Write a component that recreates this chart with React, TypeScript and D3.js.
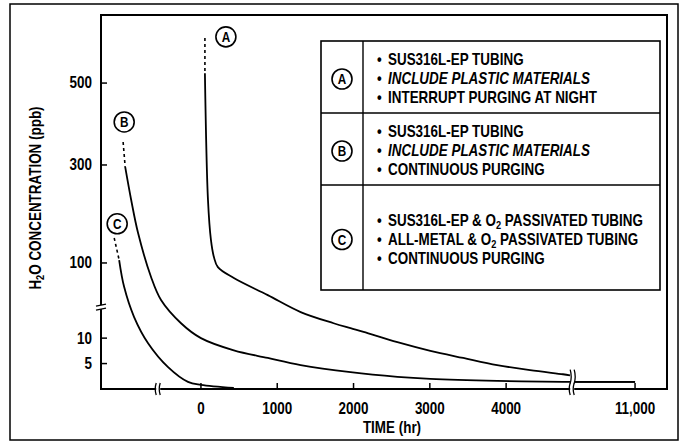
import React from 'react';
import * as d3 from 'd3';

// time in hours (negative = before the 0 mark, left of the axis break), H2O in ppb
const curveADash = [[52, 609], [52, 524]];
const curveA = [[52, 524], [92, 229], [131, 147], [170, 112], [222, 92], [431, 71], [876, 38], [1307, 14.2], [1739, 12.4], [1961, 11.6], [2131, 11.0], [2575, 9.2], [3007, 7.5], [3438, 6.1], [3882, 4.7], [4314, 3.7], [4745, 2.9], [4837, 2.7]];
const curveATail = [[10200, 1.4], [11000, 1.4]];

const curveBDash = [[-1020, 356], [-993, 296]];
const curveB = [[-993, 296], [-915, 229], [-824, 161], [-654, 73], [-523, 28.6], [-261, 12.4], [0, 10], [431, 7.6], [876, 6.1], [1307, 4.7], [1961, 3.3], [2575, 2.4], [3007, 2.0], [3882, 1.6], [4745, 1.4], [4837, 1.4]];
const curveBTail = [[10200, 1.4], [11000, 1.4]];

const curveCDash = [[-1137, 151], [-1072, 106]];
const curveC = [[-1072, 106], [-1007, 54], [-876, 13.4], [-693, 9.0], [-431, 4.3], [-170, 1.4], [0, 0.8], [431, 0.2]];

const curveLabels = [
  { id: 'A', t: 327, v: 612 },
  { id: 'B', t: -1006, v: 405 },
  { id: 'C', t: -1098, v: 180 },
];

const xTicks = [0, 1000, 2000, 3000, 4000, 11000];
const xTickLabels = ['0', '1000', '2000', '3000', '4000', '11,000'];
const yTicks = [5, 10, 100, 300, 500];
const yTickLabels = ['5', '10', '100', '300', '500'];

const legendA = ['SUS316L-EP TUBING', 'INCLUDE PLASTIC MATERIALS', 'INTERRUPT PURGING AT NIGHT'];
const legendB = ['SUS316L-EP TUBING', 'INCLUDE PLASTIC MATERIALS', 'CONTINUOUS PURGING'];
const legendC = ['SUS316L-EP & O2 PASSIVATED TUBING', 'ALL-METAL & O2 PASSIVATED TUBING', 'CONTINUOUS PURGING'];

const W = 681;
const H = 444;
const left = 101, top = 15, right = 667, bottom = 389;
const FONT = "'Liberation Sans', Arial, sans-serif";
const SQUEEZE = 0.84; // condensed typewriter-ish lettering of the original

// broken axes: piecewise linear scales
const x = d3.scaleLinear()
  .domain([-1310, 4840, 10200, 11420])
  .range([0, 0.829, 0.836, 1].map(f => left + f * (right - left)));
const y = d3.scaleLinear()
  .domain([0, 10, 15, 100, 300, 500, 665])
  .range([1, 0.864, 0.781, 0.663, 0.401, 0.182, 0].map(f => top + f * (bottom - top)));

const line = d3.line().x(d => x(d[0])).y(d => y(d[1])).curve(d3.curveCatmullRom.alpha(0.5));
const straight = d3.line().x(d => x(d[0])).y(d => y(d[1]));

// condensed bold text
function T({ x: tx, y: ty, anchor = 'start', size = 16, rotate = 0, italic = false, children }) {
  return (
    <g transform={`translate(${tx},${ty}) rotate(${rotate}) scale(${SQUEEZE},1)`}>
      <text textAnchor={anchor} dominantBaseline="central" fontSize={size} fontWeight="bold" fontStyle={italic ? 'italic' : 'normal'}>
        {children}
      </text>
    </g>
  );
}

function Circled({ cx, cy, label }) {
  return (
    <g>
      <circle cx={cx} cy={cy} r={10} fill="#fff" stroke="#000" strokeWidth={1.6} />
      <T x={cx} y={cy + 0.5} anchor="middle" size={14}>{label}</T>
    </g>
  );
}

function LegendLine({ text, x0, cy }) {
  const italic = text.startsWith('INCLUDE');
  const parts = text.split('O2');
  return (
    <g>
      <T x={x0} y={cy}>•</T>
      <T x={x0 + 11} y={cy} italic={italic}>
        {parts.length === 1 ? text : (
          <>
            {parts[0]}O<tspan dy={4} fontSize={11}>2</tspan><tspan dy={-4}>{parts[1]}</tspan>
          </>
        )}
      </T>
    </g>
  );
}

export default function App() {
  const rows = [
    { id: 'A', lines: legendA, y0: 41, y1: 113 },
    { id: 'B', lines: legendB, y0: 113, y1: 185 },
    { id: 'C', lines: legendC, y0: 185, y1: 290 },
  ];
  const lgX0 = 321, lgX1 = 660, lgCol = 363;
  const yBreak = y(15);
  const xBreak1 = x(-560);
  const xBreak2 = (x(4840) + x(10200)) / 2;

  return (
    <svg width={W} height={H} style={{ position: 'absolute', left: 0, top: 0, background: '#fff' }} fontFamily={FONT}>
      {/* outer frame */}
      <rect x={10} y={4} width={668} height={436} fill="none" stroke="#000" strokeWidth={1.5} />
      {/* plot frame */}
      <rect x={left} y={top} width={right - left} height={bottom - top} fill="none" stroke="#000" strokeWidth={2} />

      {/* y ticks */}
      {yTicks.map((v, i) => (
        <g key={v}>
          <line x1={left} x2={left + 6} y1={y(v)} y2={y(v)} stroke="#000" strokeWidth={1.5} />
          <T x={92} y={y(v)} anchor="end">{yTickLabels[i]}</T>
        </g>
      ))}
      {/* x ticks */}
      {xTicks.map((t, i) => (
        <g key={t}>
          <line x1={x(t)} x2={x(t)} y1={bottom} y2={bottom - 6} stroke="#000" strokeWidth={1.5} />
          <T x={x(t)} y={409} anchor="middle">{xTickLabels[i]}</T>
        </g>
      ))}

      {/* axis titles */}
      <T x={392} y={428} anchor="middle">TIME (hr)</T>
      <T x={36} y={198} anchor="middle" rotate={-90}>
        H<tspan dy={4} fontSize={11}>2</tspan><tspan dy={-4}>O CONCENTRATION (ppb)</tspan>
      </T>

      {/* curves */}
      <g fill="none" stroke="#000">
        <path d={straight(curveADash)} strokeWidth={1.6} strokeDasharray="3,3" />
        <path d={line(curveA)} strokeWidth={1.8} />
        <path d={straight(curveATail)} strokeWidth={1.8} />
        <path d={straight(curveBDash)} strokeWidth={1.6} strokeDasharray="3,3" />
        <path d={line(curveB)} strokeWidth={1.8} />
        <path d={straight(curveBTail)} strokeWidth={1.8} />
        <path d={straight(curveCDash)} strokeWidth={1.6} strokeDasharray="3,3" />
        <path d={line(curveC)} strokeWidth={1.8} />
      </g>

      {/* axis breaks */}
      <rect x={left - 4} y={yBreak - 2} width={9} height={4} fill="#fff" />
      <line x1={left - 5} x2={left + 5} y1={yBreak - 1} y2={yBreak - 3} stroke="#000" strokeWidth={1.4} />
      <line x1={left - 5} x2={left + 5} y1={yBreak + 3} y2={yBreak + 1} stroke="#000" strokeWidth={1.4} />
      {[xBreak1, xBreak2].map((bx, i) => (
        <g key={i}>
          <rect x={bx - 2} y={bottom - 3} width={4} height={6} fill="#fff" />
          <path d={`M${bx - 2},${bottom - 6} q-2,6 0,12 M${bx + 2},${bottom - 6} q-2,6 0,12`} fill="none" stroke="#000" strokeWidth={1.3} />
        </g>
      ))}
      <path d={`M${xBreak2 - 2},${y(3.8)} q2,7 0,14 M${xBreak2 + 2},${y(3.8)} q2,7 0,14`} fill="none" stroke="#000" strokeWidth={1.3} />

      {/* curve labels */}
      {curveLabels.map(c => <Circled key={c.id} cx={x(c.t)} cy={y(c.v)} label={c.id} />)}

      {/* legend box */}
      <rect x={lgX0} y={rows[0].y0} width={lgX1 - lgX0} height={rows[2].y1 - rows[0].y0} fill="#fff" stroke="#000" strokeWidth={1.6} />
      <line x1={lgCol} x2={lgCol} y1={rows[0].y0} y2={rows[2].y1} stroke="#000" strokeWidth={1.4} />
      {rows.slice(1).map(r => (
        <line key={r.id} x1={lgX0} x2={lgX1} y1={r.y0} y2={r.y0} stroke="#000" strokeWidth={1.4} />
      ))}
      {rows.map(r => {
        const mid = (r.y0 + r.y1) / 2 + 2;
        return (
          <g key={r.id}>
            <Circled cx={(lgX0 + lgCol) / 2} cy={mid} label={r.id} />
            {r.lines.map((t, i) => (
              <LegendLine key={i} text={t} x0={377} cy={mid + (i - 1) * 19} />
            ))}
          </g>
        );
      })}
    </svg>
  );
}
